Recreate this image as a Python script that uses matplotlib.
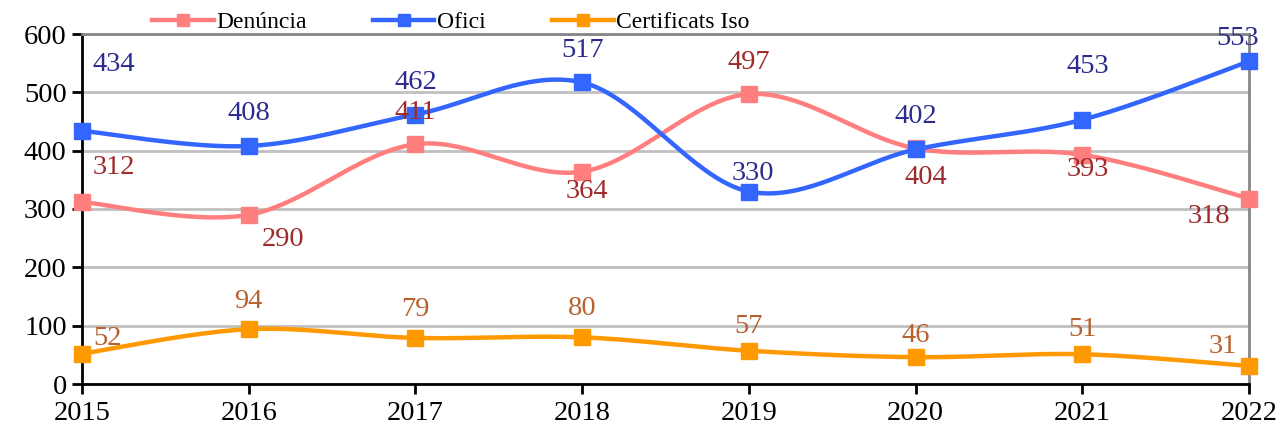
import numpy as np
import matplotlib
matplotlib.use("Agg")
import matplotlib.pyplot as plt
from matplotlib.lines import Line2D

plt.rcParams['font.family'] = ['Liberation Serif', 'DejaVu Serif']

years = [2015, 2016, 2017, 2018, 2019, 2020, 2021, 2022]
denuncia = [312, 290, 411, 364, 497, 404, 393, 318]
ofici = [434, 408, 462, 517, 330, 402, 453, 553]
iso = [52, 94, 79, 80, 57, 46, 51, 31]
series_names = ["Denúncia", "Ofici", "Certificats Iso"]

line_colors = ["#FF7F7F", "#3366FF", "#FF9900"]
label_colors = ["#9E2A2B", "#2B2B8E", "#B8602E"]

# label offsets in pixels (dx, dy)
den_off = [(32, 35), (34, -25), (0, 32), (5, -20), (0, 32), (10, -29), (6, -15), (-40, -18)]
ofi_off = [(32, 66), (0, 32), (0, 32), (0, 32), (4, 18), (0, 33), (6, 53), (-11, 23)]
iso_off = [(26, 15), (0, 28), (0, 28), (0, 29), (0, 24), (0, 22), (0, 25), (-26, 19)]


def smooth(xs, ys, n=40):
    x = np.asarray(xs, float)
    y = np.asarray(ys, float)
    P = np.column_stack([x, y])
    out = []
    m = len(P)
    for i in range(m - 1):
        p0 = P[i - 1] if i > 0 else P[i]
        p1 = P[i]
        p2 = P[i + 1]
        p3 = P[i + 2] if i + 2 < m else P[i + 1]
        c1 = p1 + (p2 - p0) / 6.0
        c2 = p2 - (p3 - p1) / 6.0
        t = np.linspace(0, 1, n)[:, None]
        seg = ((1 - t) ** 3) * p1 + 3 * ((1 - t) ** 2) * t * c1 + 3 * (1 - t) * t ** 2 * c2 + t ** 3 * p2
        if i > 0:
            seg = seg[1:]
        out.append(seg)
    out = np.vstack(out)
    return out[:, 0], out[:, 1]


fig = plt.figure(figsize=(12.84, 4.30), dpi=100)
ax = fig.add_axes([82 / 1284, 1 - 384 / 430, (1249 - 82) / 1284, (384 - 34) / 430])

ax.set_xlim(2015, 2022)
ax.set_ylim(0, 600)
ax.set_yticks(range(0, 601, 100))
ax.set_xticks(years)
ax.grid(axis='y', color='#C0C0C0', lw=2)
ax.set_axisbelow(True)

for s in ['top', 'right']:
    ax.spines[s].set_color('#868686')
    ax.spines[s].set_linewidth(2)
for s in ['left', 'bottom']:
    ax.spines[s].set_color('black')
    ax.spines[s].set_linewidth(2)
ax.tick_params(axis='both', direction='out', length=7, width=2, labelsize=20.5, colors='black', pad=4)
ax.tick_params(axis='x', pad=5)

all_series = [denuncia, ofici, iso]
offsets = [den_off, ofi_off, iso_off]
handles = []
for vals, lc, tc, offs, name in zip(all_series, line_colors, label_colors, offsets, series_names):
    sx, sy = smooth(years, vals)
    ax.plot(sx, sy, color=lc, lw=3.2, solid_capstyle='round', clip_on=False, zorder=3)
    ax.plot(years, vals, ls='none', marker='s', ms=11.5, color=lc, clip_on=False, zorder=4)
    for x, v, (dx, dy) in zip(years, vals, offs):
        ax.annotate(str(v), (x, v), xytext=(dx, dy), textcoords='offset pixels',
                    ha='center', va='center', fontsize=20.5, color=tc, zorder=5,
                    annotation_clip=False)
    handles.append(Line2D([0], [0], color=lc, lw=3.2, marker='s', ms=9))

fig.legend(handles, series_names, loc='center', bbox_to_anchor=(451 / 1284, 1 - 22 / 430),
           ncol=3, frameon=False, fontsize=17, handlelength=2.6, handletextpad=0.12,
           columnspacing=2.8, borderaxespad=0, borderpad=0)

fig.savefig("out.png", dpi=100)
